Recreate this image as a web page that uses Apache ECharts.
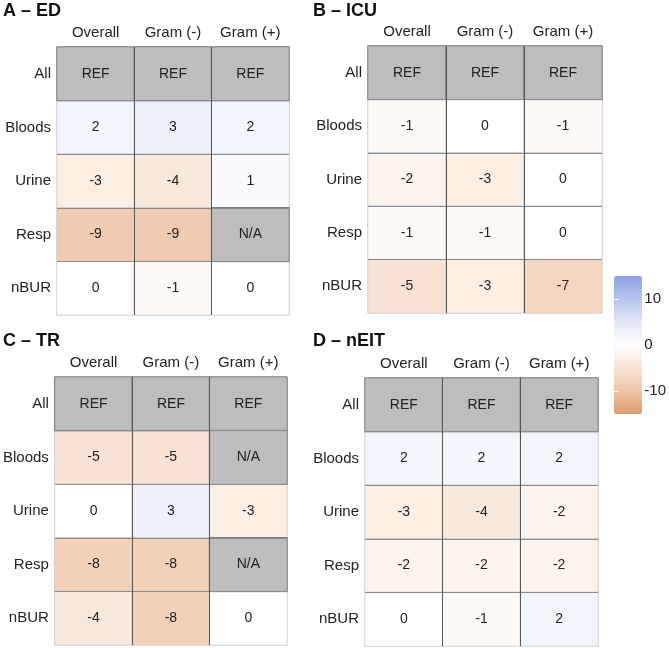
<!DOCTYPE html>
<html>
<head>
<meta charset="utf-8">
<script src="https://cdn.jsdelivr.net/npm/echarts@6/dist/echarts.min.js"></script>
<style>
  html, body { margin: 0; padding: 0; background: #fff; }
  #main { width: 669px; height: 648px; }
</style>
</head>
<body>
<div id="main"></div>
<script>
// categories
const cols = ['Overall', 'Gram (-)', 'Gram (+)'];
const rows = ['All', 'Bloods', 'Urine', 'Resp', 'nBUR'];
const panelTitles = ['A – ED', 'B – ICU', 'C – TR', 'D – nEIT'];

// values per panel, row by row (REF / N/A are grey cells)
const edValues = [['REF', 'REF', 'REF'], [2, 3, 2], [-3, -4, 1], [-9, -9, 'N/A'], [0, -1, 0]];
const icuValues = [['REF', 'REF', 'REF'], [-1, 0, -1], [-2, -3, 0], [-1, -1, 0], [-5, -3, -7]];
const trValues = [['REF', 'REF', 'REF'], [-5, -5, 'N/A'], [0, 3, -3], [-8, -8, 'N/A'], [-4, -8, 0]];
const neitValues = [['REF', 'REF', 'REF'], [2, 2, 2], [-3, -4, -2], [-2, -2, -2], [0, -1, 2]];

// colour bar
const barRange = [-15, 15];
const barTicks = [-10, 0, 10];

const panels = [edValues, icuValues, trValues, neitValues];
const font = "'Liberation Sans', Arial, sans-serif";

// layout of the four tables
const boxes = [
  { left: 57, top: 47, width: 232, height: 268, tx: 3, ty: 2 },
  { left: 368, top: 46, width: 234, height: 267, tx: 313, ty: 2 },
  { left: 53, top: 377, width: 234, height: 268, tx: 3, ty: 332 },
  { left: 365, top: 378, width: 233, height: 268, tx: 313, ty: 332 }
];

const grid = [];
const xAxis = [];
const yAxis = [];
const title = [];
const colorSeries = [];
const greySeries = [];

boxes.forEach((b, i) => {
  grid.push({ left: b.left, top: b.top, width: b.width, height: b.height });
  title.push({
    text: panelTitles[i], left: b.tx, top: b.ty, padding: 0,
    textStyle: { fontFamily: font, fontSize: 18, fontWeight: 'bold', color: '#111' }
  });
  xAxis.push({
    type: 'category', gridIndex: i, data: cols, position: 'top', z: 5,
    axisLine: { show: false }, axisTick: { show: false },
    axisLabel: { interval: 0, hideOverlap: false, margin: 7, fontFamily: font, fontSize: 15, color: '#222' },
    splitLine: { show: true, interval: 0, showMinLine: false, showMaxLine: false, lineStyle: { color: '#555', width: 1 } }
  });
  yAxis.push({
    type: 'category', gridIndex: i, data: rows, inverse: true, z: 5,
    axisLine: { show: false }, axisTick: { show: false },
    axisLabel: { interval: 0, hideOverlap: false, margin: 6, fontFamily: font, fontSize: 15, color: '#222' },
    splitLine: { show: true, interval: 0, showMinLine: false, showMaxLine: false, lineStyle: { color: '#8a8a8a', width: 1 } }
  });

  const nums = [];
  const greys = [];
  panels[i].forEach((r, ri) => {
    r.forEach((v, ci) => {
      if (typeof v === 'number') nums.push([ci, ri, v]);
      else greys.push({ name: v, value: [ci, ri, 0] });
    });
  });

  colorSeries.push({
    type: 'heatmap', xAxisIndex: i, yAxisIndex: i, data: nums,
    itemStyle: { borderColor: '#cfcfcf', borderWidth: 1 },
    label: { show: true, fontFamily: font, fontSize: 14, color: '#222', formatter: p => p.value[2] },
    emphasis: { disabled: true }
  });
  greySeries.push({
    type: 'heatmap', xAxisIndex: i, yAxisIndex: i, data: greys,
    itemStyle: { color: '#bdbdbd', borderColor: '#7a7a7a', borderWidth: 1 },
    label: { show: true, fontFamily: font, fontSize: 14, color: '#222', formatter: p => p.name },
    emphasis: { disabled: true }
  });
});

// grid behind the colour bar, only used for its tick labels
grid.push({ left: 614, top: 276, width: 28, height: 138 });
xAxis.push({ type: 'value', gridIndex: 4, show: false });
yAxis.push({
  type: 'value', gridIndex: 4, min: barRange[0], max: barRange[1], position: 'right', z: 6,
  axisLine: { show: false }, splitLine: { show: false },
  axisTick: { show: true, inside: true, length: 5, customValues: barTicks, lineStyle: { color: '#fff', width: 1 } },
  axisLabel: { show: true, margin: 4, customValues: barTicks, fontFamily: font, fontSize: 15, color: '#222' }
});
yAxis.push({
  type: 'value', gridIndex: 4, min: barRange[0], max: barRange[1], position: 'left', z: 6,
  axisLine: { show: false }, splitLine: { show: false },
  axisTick: { show: true, inside: true, length: 5, customValues: barTicks, lineStyle: { color: '#fff', width: 1 } },
  axisLabel: { show: false }
});

const option = {
  backgroundColor: '#fff',
  animation: false,
  title,
  grid,
  xAxis,
  yAxis,
  visualMap: {
    type: 'continuous',
    min: barRange[0], max: barRange[1],
    seriesIndex: [0, 1, 2, 3],
    left: 614, top: 276, itemWidth: 28, itemHeight: 138,
    padding: 0, calculable: false, text: ['', ''], showLabel: false,
    inRange: { color: ['#dd9b6e', '#efc5a8', '#f8e2d3', '#ffffff', '#e1e6f8', '#b7c3ee', '#8fa2e2'] }
  },
  series: colorSeries.concat(greySeries)
};

const chart = echarts.init(document.getElementById('main'));
chart.setOption(option);
</script>
</body>
</html>
